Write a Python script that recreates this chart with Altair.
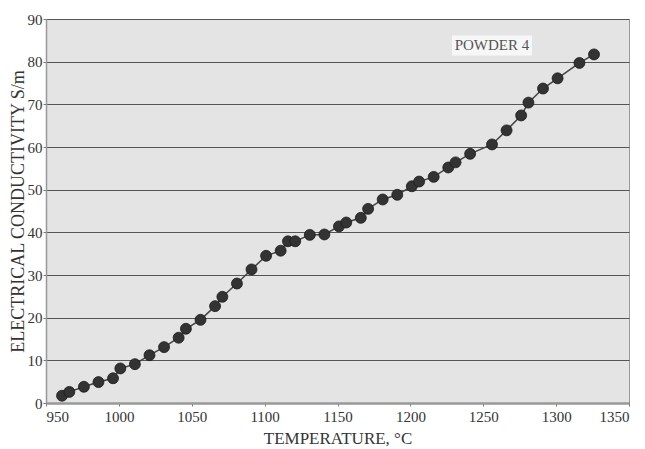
import altair as alt
import pandas as pd

temperature = [961, 966, 976, 986, 996, 1001, 1011, 1021, 1031, 1041, 1046, 1056,
               1066, 1071, 1081, 1091, 1101, 1111, 1116, 1121, 1131, 1141, 1151, 1156,
               1166, 1171, 1181, 1191, 1201, 1206, 1216, 1226, 1231, 1241, 1256, 1266,
               1276, 1281, 1291, 1301, 1316, 1326]
conductivity = [1.7, 2.6, 3.8, 4.9, 5.8, 8.1, 9.1, 11.2, 13.1, 15.3, 17.4, 19.5,
                22.7, 24.9, 28.0, 31.3, 34.5, 35.7, 37.9, 37.9, 39.4, 39.5, 41.4, 42.3,
                43.4, 45.5, 47.7, 48.8, 50.8, 51.9, 53.0, 55.2, 56.4, 58.4, 60.6, 63.9,
                67.4, 70.4, 73.7, 76.1, 79.7, 81.7]
x_ticks = [950, 1000, 1050, 1100, 1150, 1200, 1250, 1300, 1350]
y_ticks = [0, 10, 20, 30, 40, 50, 60, 70, 80, 90]
label_text = ["POWDER 4"]
label_x = [1256]
label_y = [83.8]

df = pd.DataFrame({"T": temperature, "C": conductivity})
lab = pd.DataFrame({"text": label_text, "x": label_x, "y": label_y})

FONT = "Liberation Serif"

xs = alt.Scale(domain=[950, 1350], nice=False, zero=False)
ys = alt.Scale(domain=[0, 90], nice=False, zero=False)

x_enc = alt.X("T:Q", scale=xs, axis=alt.Axis(
    values=x_ticks, format="d", title="TEMPERATURE, °C", grid=False, tickSize=3,
    tickColor="#777777", domainColor="#999999", domainWidth=2.5,
    labelFont=FONT, labelFontSize=15, labelColor="#333333", labelPadding=3,
    titleFont=FONT, titleFontSize=17, titleFontWeight="normal", titleColor="#333333",
    titlePadding=6))
y_enc = alt.Y("C:Q", scale=ys, axis=alt.Axis(
    values=y_ticks, format="d", title="ELECTRICAL  CONDUCTIVITY  S/m", grid=True,
    gridColor="#555555", gridWidth=1.2, tickSize=3, tickColor="#777777",
    domainColor="#999999", domainWidth=1.5,
    labelFont=FONT, labelFontSize=15, labelColor="#333333", labelPadding=1,
    titleFont=FONT, titleFontSize=18, titleFontWeight="normal", titleColor="#333333",
    titlePadding=0))

line = alt.Chart(df).mark_line(color="#444444", strokeWidth=1.5).encode(x=x_enc, y=y_enc)
pts = alt.Chart(df).mark_point(filled=True, shape="circle", size=120, color="#333333",
                               opacity=1, stroke="#1a1a1a", strokeWidth=0.8).encode(
    x=alt.X("T:Q", scale=xs), y=alt.Y("C:Q", scale=ys))

box = alt.Chart(lab).mark_rect(color="#f7f7f7", width=80, height=20).encode(
    x=alt.X("x:Q", scale=xs), y=alt.Y("y:Q", scale=ys))
txt = alt.Chart(lab).mark_text(font=FONT, fontSize=15, color="#555555").encode(
    x=alt.X("x:Q", scale=xs), y=alt.Y("y:Q", scale=ys), text="text:N")

chart = alt.layer(box, line, pts, txt).properties(
    width=583, height=384,
    autosize=alt.AutoSizeParams(type="none"),
    padding={"left": 38, "top": 11, "right": 8, "bottom": 46},
    background="white",
).configure_view(fill="#e4e4e4", stroke="#999999", strokeWidth=1)

chart.save("out.html", embed_options={"renderer": "svg", "actions": False})
